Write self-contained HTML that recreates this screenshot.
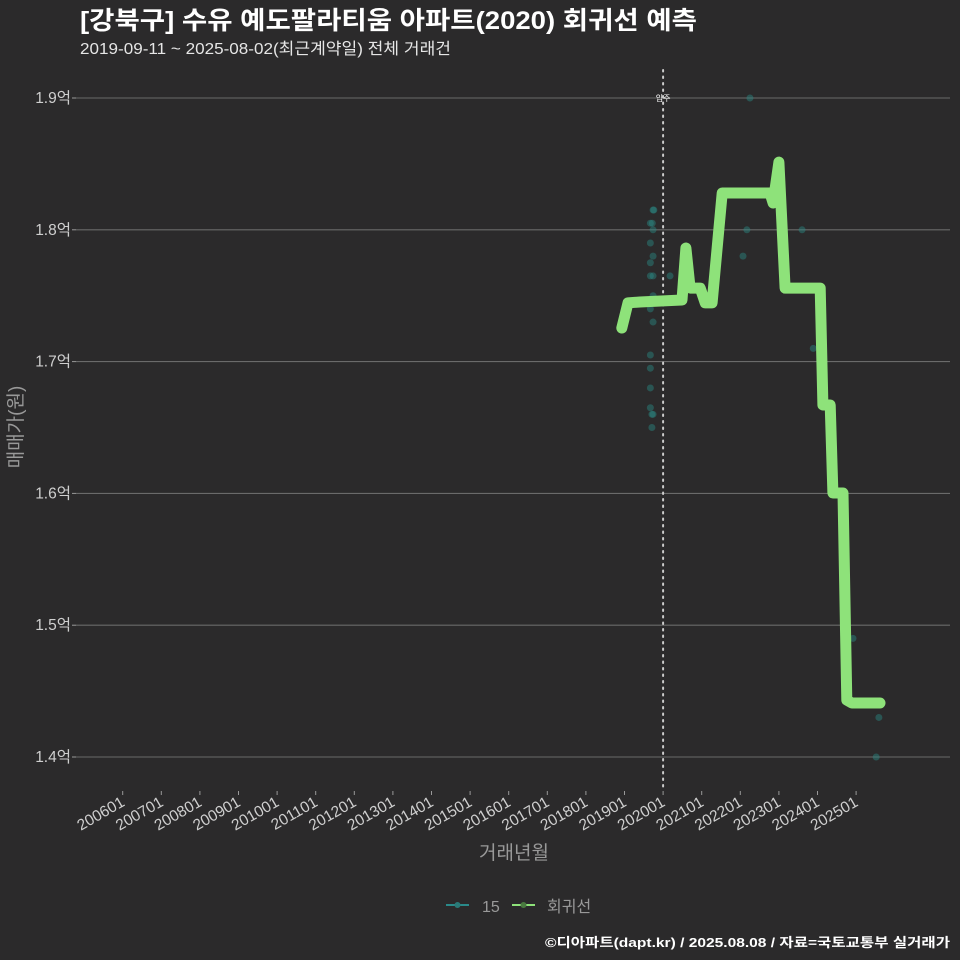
<!DOCTYPE html>
<html><head><meta charset="utf-8">
<style>
html,body{margin:0;padding:0;background:#2b2a2b;}
svg{display:block;font-family:"Liberation Sans","Noto Sans CJK KR",sans-serif;}
</style></head>
<body>
<svg id="chart" width="960" height="960" viewBox="0 0 960 960" xmlns="http://www.w3.org/2000/svg">
<rect width="960" height="960" fill="#2b2a2b"/>
<text x="80" y="29" fill="#ffffff" font-size="25" font-weight="bold" textLength="617" lengthAdjust="spacingAndGlyphs">[강북구] 수유 예도팔라티움 아파트(2020) 회귀선 예측</text>
<text x="80" y="54" fill="#e6e6e6" font-size="16" textLength="371" lengthAdjust="spacingAndGlyphs">2019-09-11 ~ 2025-08-02(최근계약일) 전체 거래건</text>
<g id="grid"></g>
<g id="yaxis"></g>
<g id="xaxis"></g>
<g id="marks"></g>
<text x="22" y="427" fill="#999" font-size="19" transform="rotate(-90 22 427)" text-anchor="middle">매매가(원)</text>
<text x="514" y="859" fill="#999" font-size="19" text-anchor="middle">거래년월</text>
<g>
<line x1="446" y1="905" x2="469" y2="905" stroke="#2a8a8a" stroke-width="2"/>
<circle cx="457.5" cy="905" r="3" fill="#2a7a78"/>
<text x="482" y="912" fill="#999" font-size="16">15</text>
</g>
<g>
<line x1="512" y1="905" x2="535" y2="905" stroke="#8ee27a" stroke-width="2"/>
<circle cx="523.5" cy="905" r="3" fill="#4a7a40"/>
<text x="547" y="912" fill="#999" font-size="16">회귀선</text>
</g>
<text x="950" y="947" fill="#ffffff" font-size="13" font-weight="bold" text-anchor="end" textLength="405" lengthAdjust="spacingAndGlyphs">©디아파트(dapt.kr) / 2025.08.08 / 자료=국토교통부 실거래가</text>
</svg>
<script>
const yTicks = [1.4, 1.5, 1.6, 1.7, 1.8, 1.9];
const yTickLabels = ["1.4억","1.5억","1.6억","1.7억","1.8억","1.9억"];
const xTickYears = [2006,2007,2008,2009,2010,2011,2012,2013,2014,2015,2016,2017,2018,2019,2020,2021,2022,2023,2024,2025];
const xTickLabels = ["200601","200701","200801","200901","201001","201101","201201","201301","201401","201501","201601","201701","201801","201901","202001","202101","202201","202301","202401","202501"];
const moveInYear = 2020.0;
const tradeTimes = [2019.74,2019.76,2019.72,2019.67,2019.74,2019.67,2019.74,2019.67,2019.67,2019.74,2020.18,2019.74,2019.67,2019.74,2019.67,2019.67,2019.67,2019.67,2019.71,2019.71,2019.74,2022.25,2022.17,2022.07,2023.60,2023.89,2024.92,2025.59,2025.52];
const tradePrices = [1.815,1.815,1.805,1.805,1.80,1.79,1.78,1.775,1.765,1.765,1.765,1.75,1.74,1.73,1.705,1.695,1.68,1.665,1.66,1.65,1.66,1.90,1.80,1.78,1.80,1.71,1.49,1.43,1.40];
const regTimes = [2018.93,2019.09,2019.40,2020.49,2020.59,2020.70,2020.96,2021.09,2021.27,2021.53,2022.77,2022.85,2023.00,2023.16,2024.07,2024.14,2024.33,2024.40,2024.66,2024.76,2024.89,2025.62];
const regValues = [1.7255,1.7445,1.7452,1.7467,1.7862,1.7558,1.7558,1.7445,1.7445,1.8279,1.8279,1.8203,1.8514,1.7558,1.7558,1.6671,1.6671,1.6003,1.6003,1.4432,1.441,1.441];

const NS = "http://www.w3.org/2000/svg";
function xScale(t){ return 122.7 + (t - 2006) * 38.6; }
function yScale(v){ return 757 - (v - 1.4) * 1318; }
function mk(tag, attrs, parent){
  const el = document.createElementNS(NS, tag);
  for (const k in attrs) el.setAttribute(k, attrs[k]);
  parent.appendChild(el);
  return el;
}
const grid = document.getElementById('grid');
const yaxis = document.getElementById('yaxis');
const xaxis = document.getElementById('xaxis');
const marks = document.getElementById('marks');

yTicks.forEach((v, i) => {
  const y = yScale(v);
  const g = mk('line', {x1:76, x2:950, y1:y, y2:y, stroke:'#6a6a6a', 'stroke-width':1.1}, grid);
  
  
  const tk = mk('line', {x1:72, x2:76, y1:y, y2:y, stroke:'#999', 'stroke-width':1}, yaxis);
  
  
  const t = mk('text', {x:71, y:y+5, fill:'#cfcfcf', 'font-size':15.5, 'text-anchor':'end'}, yaxis);
  t.textContent = yTickLabels[i];
  
  
});

xTickYears.forEach((yr, i) => {
  const x = xScale(yr);
  const tk = mk('line', {x1:x, x2:x, y1:791, y2:795, stroke:'#999', 'stroke-width':1}, xaxis);
  
  
  const t = mk('text', {x:x+3, y:805, fill:'#cfcfcf', 'font-size':15.5, 'text-anchor':'end', transform:'rotate(-30 '+(x+3)+' 805)'}, xaxis);
  t.textContent = xTickLabels[i];
  
  
});

const mx = xScale(moveInYear);
const vl = mk('line', {x1:mx, x2:mx, y1:70, y2:790, stroke:'#cccccc', 'stroke-width':2, 'stroke-dasharray':'1.5 5', 'stroke-linecap':'round'}, marks);


const vt = mk('text', {x:mx, y:101, fill:'#ffffff', 'font-size':8, 'text-anchor':'middle'}, marks);
vt.textContent = '입주';



tradeTimes.forEach((t, i) => {
  const c = mk('circle', {cx:xScale(t), cy:yScale(tradePrices[i]), r:3.5, fill:'#2a8a84', 'fill-opacity':0.45}, marks);
  
  
});

const pts = regTimes.map((t, i) => xScale(t).toFixed(1) + ',' + yScale(regValues[i]).toFixed(1)).join(' ');
const pl = mk('polyline', {points:pts, fill:'none', stroke:'#8ee27a', 'stroke-width':11, 'stroke-linejoin':'round', 'stroke-linecap':'round'}, marks);


</script>
</body></html>
